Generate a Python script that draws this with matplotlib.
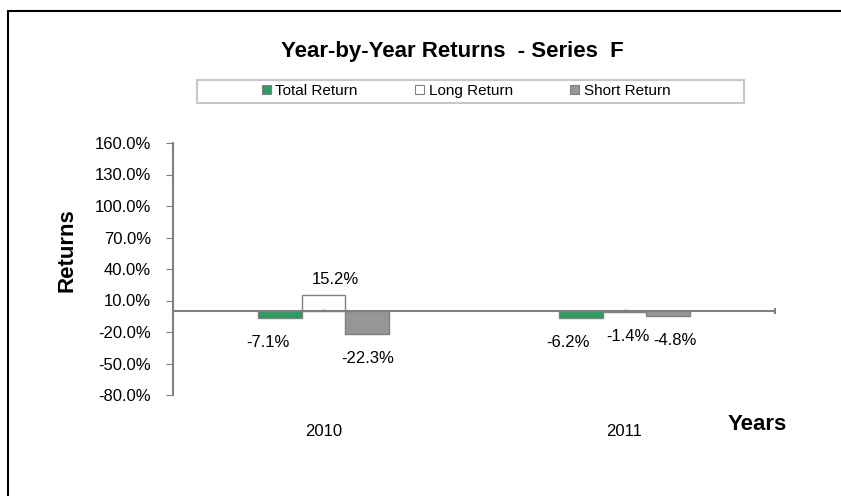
import numpy as np
import matplotlib
matplotlib.use('Agg')
import matplotlib.pyplot as plt
from matplotlib.patches import Rectangle, Patch
from matplotlib.ticker import FuncFormatter
import matplotlib.transforms as mtransforms

plt.rcParams['font.family'] = ['Liberation Sans Narrow', 'Liberation Sans', 'DejaVu Sans']

years = ['2010', '2011']
series_names = ['Total Return', 'Long Return', 'Short Return']
total_ret = [-7.1, -6.2]
long_ret = [15.2, -1.4]
short_ret = [-22.3, -4.8]

y_ticks = [-80, -50, -20, 10, 40, 70, 100, 130, 160]

fig = plt.figure(figsize=(8.41, 4.96), dpi=100)
W, H = 841, 496

# outer border of the chart area (runs off the right and bottom of the image)
fig.patches.append(Rectangle((8 / W, -0.1), 1.2, 1 - 11 / H + 0.1, transform=fig.transFigure,
                             fill=False, edgecolor='black', linewidth=1.5))

ax = fig.add_axes([173 / W, 1 - 395 / H, 602 / W, 252 / H])

x = np.arange(len(years))
width = 0.146
styles = [
    dict(color='#2E9B63', edgecolor='#808080'),
    dict(color='white', edgecolor='#808080'),
    dict(color='#969696', edgecolor='#808080'),
]
all_vals = [total_ret, long_ret, short_ret]
# small x shifts (pixels) Excel applied to avoid overlapping labels
label_dx = [[-12, -13], [12, 3], [0, 6]]

for i, (vals, st) in enumerate(zip(all_vals, styles)):
    pos = x + (i - 1) * width
    ax.bar(pos, vals, width, linewidth=1.0, label=series_names[i], zorder=2, **st)
    for j, (p, v) in enumerate(zip(pos, vals)):
        if v >= 0:
            dy, va = 8, 'bottom'
        else:
            dy, va = -17, 'top'
        ax.annotate(f'{v:.1f}%', (p, v), xytext=(label_dx[i][j] * 0.72, dy * 0.72),
                    textcoords='offset points', ha='center', va=va, fontsize=12, color='black')

ax.set_xlim(-0.5, len(years) - 0.5)
ax.set_ylim(-80, 160)
ax.set_yticks(y_ticks)
ax.yaxis.set_major_formatter(FuncFormatter(lambda v, p: f'{v:.1f}%'))
ax.tick_params(axis='y', direction='out', length=5, color='#808080', labelsize=12, pad=11)
ax.set_xticks([])
for s in ['top', 'right', 'bottom']:
    ax.spines[s].set_visible(False)
ax.spines['left'].set_color('#808080')
ax.spines['left'].set_linewidth(1.5)

ax.axhline(0, color='#808080', linewidth=1.5, zorder=3)
# tick marks at category centres and the axis end
ax.vlines(x, 0, 2, color='#808080', linewidth=1.0, zorder=3)
ax.vlines([len(years) - 0.5], -3, 3, color='#808080', linewidth=1.5, zorder=3, clip_on=False)

trans = mtransforms.blended_transform_factory(ax.transData, ax.transAxes)
for xi, yr in zip(x, years):
    ax.text(xi, -0.145, yr, transform=trans, ha='center', va='center', fontsize=12)

fig.text(757 / W, 1 - 424 / H, 'Years', ha='center', va='center', fontsize=16, fontweight='bold')
fig.text(67 / W, 1 - 250 / H, 'Returns', ha='center', va='center', rotation=90,
         fontsize=16, fontweight='bold')
fig.text(452 / W, 1 - 52 / H, 'Year-by-Year Returns  - Series  F', ha='center', va='center',
         fontsize=16, fontweight='bold')

# legend box
fig.patches.append(Rectangle((197 / W, 1 - 103 / H), 547 / W, 23 / H, transform=fig.transFigure,
                             fill=False, edgecolor='#c8c8c8', linewidth=1.5))
handles = [Patch(facecolor=st['color'], edgecolor=st['edgecolor'], linewidth=0.8) for st in styles]
fig.legend(handles, series_names, loc='center', bbox_to_anchor=(466 / W, 1 - 91 / H), ncol=3,
           frameon=False, fontsize=11, handlelength=0.6, handleheight=0.6, handletextpad=0.3,
           columnspacing=3.75, borderpad=0.1)

fig.savefig('out.png', dpi=100)
